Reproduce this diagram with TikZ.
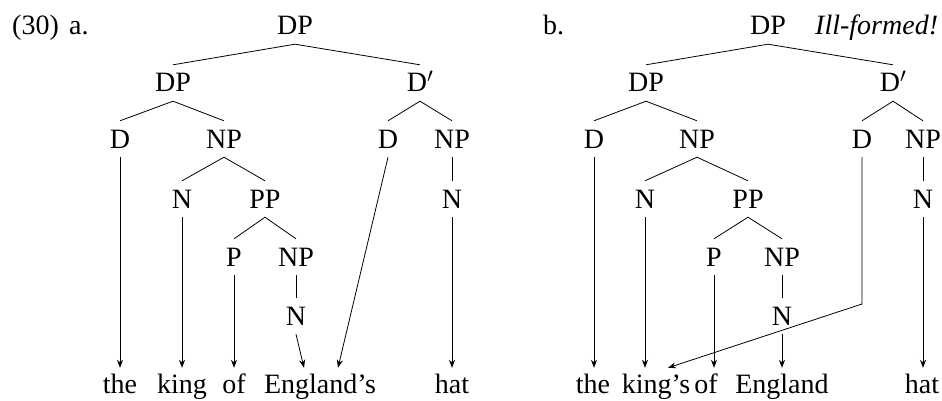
\documentclass[tikz,border=0pt]{standalone}
\usepackage{fontspec}
\setmainfont{Liberation Serif}
\newfontfamily\tms{Liberation Serif}
\usetikzlibrary{arrows.meta}
\begin{document}
\begin{tikzpicture}[x=1pt,y=-1pt,
  every node/.style={font=\tms\fontsize{28pt}{33pt}\selectfont, inner xsep=0pt},
  lab/.style={anchor=base, text height=18pt, text depth=0pt, inner ysep=9pt},
  word/.style={anchor=base, text height=18pt, text depth=0pt, inner ysep=7pt},
  free/.style={anchor=base west, inner sep=0pt},
  edge/.style={line width=0.8pt},
  arr/.style={line width=0.8pt, -{Stealth[length=8pt,width=6pt]}}]
\useasboundingbox (0,0) rectangle (942,401);
% ---------- (a) ----------
\node[free] (num) at (12,35) {(30)};
\node[free] (la) at (69,35) {a.};
\node[lab] (a0) at (295,35) {DP};
\node[lab] (a1) at (173,92) {DP};
\node[lab] (a2) at (420,92) {D$'$};
\node[lab] (a3) at (120,148) {D};
\node[lab] (a4) at (224,148) {NP};
\node[lab] (a5) at (388,148) {D};
\node[lab] (a6) at (452,148) {NP};
\node[lab] (a7) at (182,208) {N};
\node[lab] (a8) at (265,208) {PP};
\node[lab] (a9) at (452,208) {N};
\node[lab] (a10) at (234,266) {P};
\node[lab] (a11) at (296,266) {NP};
\node[lab] (a12) at (296,325) {N};
\node[word] (wa1) at (120,393) {the};
\node[word] (wa2) at (182,393) {king};
\node[word] (wa3) at (234,393) {of};
\node[word] (wa4) at (320,393) {England’s};
\node[word] (wa5) at (452,393) {hat};
\draw[edge] (a1.north) -- (a0.south) -- (a2.north);
\draw[edge] (a3.north) -- (a1.south) -- (a4.north);
\draw[edge] (a5.north) -- (a2.south) -- (a6.north);
\draw[edge] (a7.north) -- (a4.south) -- (a8.north);
\draw[edge] (a6.south) -- (a9.north);
\draw[edge] (a10.north) -- (a8.south) -- (a11.north);
\draw[edge] (a11.south) -- (a12.north);
\draw[arr] (a3.south) -- (wa1.north);
\draw[arr] (a7.south) -- (wa2.north);
\draw[arr] (a10.south) -- (wa3.north);
\draw[arr] (a12.south) -- ([xshift=-16pt]wa4.north);
\draw[arr] (a5.south) -- ([xshift=18pt]wa4.north);
\draw[arr] (a9.south) -- (wa5.north);
% ---------- (b) ----------
\node[free] (lb) at (543,35) {b.};
\node[free] (ill) at (815,35) {\itshape Ill-formed!};
\node[lab] (b0) at (768,35) {DP};
\node[lab] (b1) at (646,92) {DP};
\node[lab] (b2) at (893,92) {D$'$};
\node[lab] (b3) at (594,148) {D};
\node[lab] (b4) at (697,148) {NP};
\node[lab] (b5) at (862,148) {D};
\node[lab] (b6) at (923,148) {NP};
\node[lab] (b7) at (645,208) {N};
\node[lab] (b8) at (748,208) {PP};
\node[lab] (b9) at (923,208) {N};
\node[lab] (b10) at (714,266) {P};
\node[lab] (b11) at (782,266) {NP};
\node[lab] (b12) at (782,325) {N};
\node[word] (wb1) at (593,393) {the};
\node[word] (wb2) at (656,393) {king’s};
\node[word] (wb3) at (706,393) {of};
\node[word] (wb4) at (782,393) {England};
\node[word] (wb5) at (922,393) {hat};
\coordinate (bend) at (862,304);
\draw[edge] (b1.north) -- (b0.south) -- (b2.north);
\draw[edge] (b3.north) -- (b1.south) -- (b4.north);
\draw[edge] (b5.north) -- (b2.south) -- (b6.north);
\draw[edge] (b7.north) -- (b4.south) -- (b8.north);
\draw[edge] (b6.south) -- (b9.north);
\draw[edge] (b10.north) -- (b8.south) -- (b11.north);
\draw[edge] (b11.south) -- (b12.north);
\draw[arr] (b3.south) -- ([xshift=1pt]wb1.north);
\draw[arr] (b7.south) -- ([xshift=-11pt]wb2.north);
\draw[arr] (b10.south) -- ([xshift=8pt]wb3.north);
\draw[arr] (b12.south) -- (wb4.north);
\draw[arr] (b5.south) -- (bend) -- ([xshift=12pt]wb2.north);
\draw[arr] (b9.south) -- ([xshift=1pt]wb5.north);
\end{tikzpicture}
\end{document}
